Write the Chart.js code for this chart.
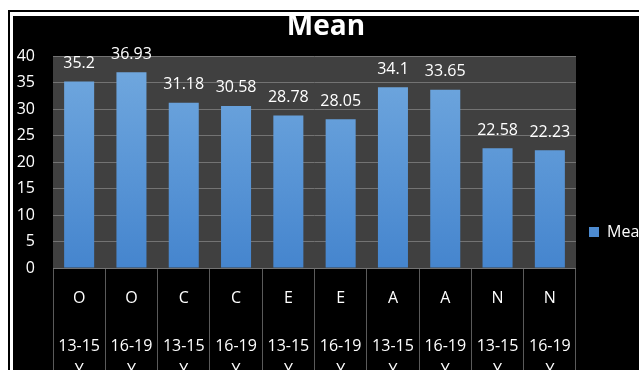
<!DOCTYPE html>
<html>
<head>
<meta charset="utf-8">
<script src="https://cdn.jsdelivr.net/npm/chart.js@4.4.1/dist/chart.umd.min.js"></script>
<style>
  html, body { margin: 0; padding: 0; background: #fff; overflow: hidden; width: 639px; height: 370px; }
  #frame { position: absolute; left: 8px; top: 10px; width: 700px; height: 500px; border-left: 2px solid #000; border-top: 2px solid #000; }
  #box { position: absolute; left: 13px; top: 16px; width: 626px; height: 432px; background: #000; }
</style>
</head>
<body>
<div id="frame"></div>
<div id="box"><canvas id="meanChart" width="626" height="432"></canvas></div>
<script>
var traits = ['O', 'O', 'C', 'C', 'E', 'E', 'A', 'A', 'N', 'N'];
var ageGroups = ['13-15 Y', '16-19 Y', '13-15 Y', '16-19 Y', '13-15 Y', '16-19 Y', '13-15 Y', '16-19 Y', '13-15 Y', '16-19 Y'];
var means = [35.2, 36.93, 31.18, 30.58, 28.78, 28.05, 34.1, 33.65, 22.58, 22.23];
var yTickValues = [0, 5, 10, 15, 20, 25, 30, 35, 40];

var labels = traits.map(function(t, i) {
  return [t, ''].concat(ageGroups[i].split(' '));
});

Chart.defaults.font.family = "'Open Sans', sans-serif";
Chart.defaults.color = '#fff';

// grey plot area behind the bars
var plotBackground = {
  id: 'plotBackground',
  beforeDraw: function(chart) {
    var a = chart.chartArea;
    chart.ctx.save();
    chart.ctx.fillStyle = '#404040';
    chart.ctx.fillRect(a.left, a.top, a.right - a.left, a.bottom - a.top);
    chart.ctx.restore();
  }
};

// value labels above each bar
var valueLabels = {
  id: 'valueLabels',
  afterDatasetsDraw: function(chart) {
    var ctx = chart.ctx;
    var meta = chart.getDatasetMeta(0);
    ctx.save();
    ctx.fillStyle = '#fff';
    ctx.font = "16px 'Open Sans', sans-serif";
    ctx.textAlign = 'center';
    ctx.textBaseline = 'middle';
    meta.data.forEach(function(bar, i) {
      ctx.fillText(String(means[i]), bar.x, bar.y - 18);
    });
    ctx.restore();
  }
};

var ctx = document.getElementById('meanChart').getContext('2d');
var meanChart = new Chart(ctx, {
  type: 'bar',
  data: {
    labels: labels,
    datasets: [{
      label: 'Mean',
      data: means,
      backgroundColor: function(context) {
        var area = context.chart.chartArea;
        if (!area) return '#5b9bd5';
        var g = context.chart.ctx.createLinearGradient(0, area.top, 0, area.bottom);
        g.addColorStop(0, '#72a9df');
        g.addColorStop(1, '#4585ce');
        return g;
      },
      borderWidth: 0,
      barPercentage: 0.574,
      categoryPercentage: 1
    }]
  },
  options: {
    responsive: false,
    animation: false,
    layout: { padding: 0 },
    plugins: {
      title: {
        display: true,
        text: 'Mean',
        color: '#fff',
        font: { size: 28, weight: 'bold', lineHeight: 22 / 28 },
        padding: { top: 0, bottom: 18 }
      },
      legend: {
        position: 'right',
        maxWidth: 63,
        labels: {
          boxWidth: 10,
          boxHeight: 10,
          padding: 13,
          color: '#fff',
          font: { size: 16 }
        }
      },
      tooltip: { enabled: false }
    },
    scales: {
      x: {
        offset: true,
        grid: {
          offset: true,
          drawOnChartArea: false,
          drawTicks: true,
          tickLength: 180,
          tickColor: '#5a5a5a'
        },
        border: { display: false },
        ticks: {
          color: '#fff',
          font: { size: 16, lineHeight: 1.5 },
          padding: -162,
          maxRotation: 0,
          autoSkip: false
        },
        afterFit: function(scale) {
          scale.height = scale.chart.height - 252;
        }
      },
      y: {
        min: 0,
        max: 40,
        grid: { color: '#737373', drawTicks: false },
        border: { display: false },
        ticks: {
          color: '#fff',
          font: { size: 16 },
          padding: 18
        },
        afterBuildTicks: function(scale) {
          scale.ticks = yTickValues.map(function(v) { return { value: v }; });
        },
        afterFit: function(scale) {
          scale.width = 40;
        }
      }
    }
  },
  plugins: [plotBackground, valueLabels]
});
</script>
</body>
</html>
